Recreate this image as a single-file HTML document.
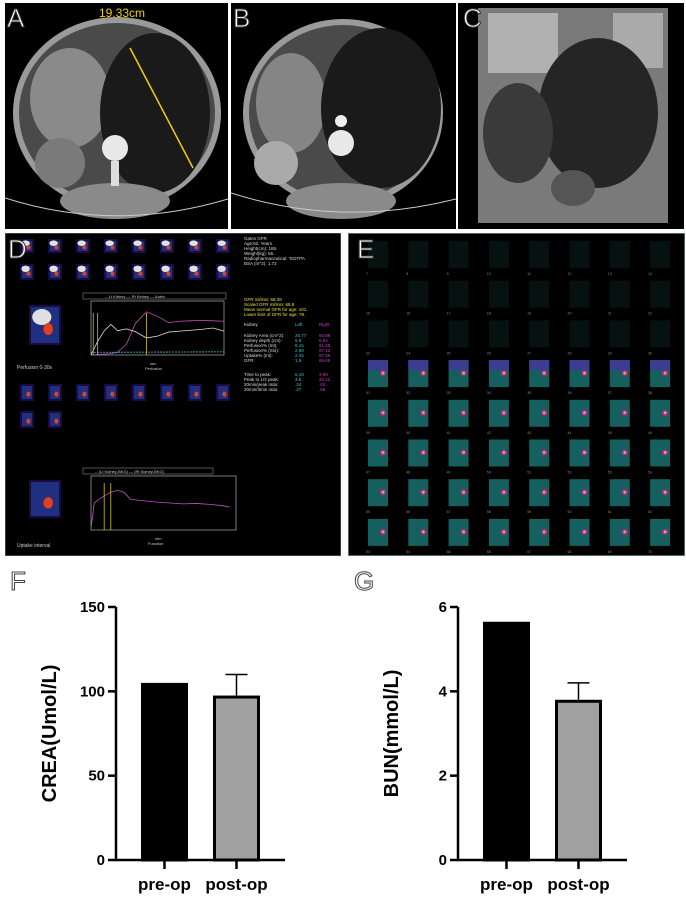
<!DOCTYPE html>
<html><head><meta charset="utf-8"><style>
body{margin:0;width:686px;height:897px;background:#fff;position:relative;overflow:hidden;font-family:"Liberation Sans",Arial,sans-serif}
.p{position:absolute}
.lbl{position:absolute;font-size:26px;color:#fff;font-family:"Liberation Sans",sans-serif;-webkit-text-stroke:1px #333;font-weight:400}
</style></head><body>

<svg class="p" style="left:5px;top:3px" width="223" height="226" viewBox="0 0 223 226">
<rect width="223" height="226" fill="#000"/>
<ellipse cx="112" cy="110" rx="104" ry="96" fill="#9a9a9a"/>
<ellipse cx="112" cy="110" rx="98" ry="90" fill="#4a4a4a"/>
<ellipse cx="65" cy="95" rx="40" ry="50" fill="#8a8a8a"/>
<ellipse cx="150" cy="110" rx="55" ry="80" fill="#1a1a1a"/>
<ellipse cx="110" cy="198" rx="55" ry="18" fill="#8a8a8a"/>
<ellipse cx="55" cy="160" rx="25" ry="25" fill="#7a7a7a"/>
<circle cx="110" cy="145" r="13" fill="#e8e8e8"/>
<rect x="106" y="158" width="8" height="25" fill="#ddd"/>
<line x1="125" y1="45" x2="188" y2="165" stroke="#f0d000" stroke-width="1.5"/>
<text x="94" y="14" fill="#f0d000" font-size="12" font-family="Liberation Sans">19.33cm</text>
<path d="M0 195 Q110 230 223 196" stroke="#ccc" fill="none"/>
</svg>
<div class="lbl" style="left:7px;top:3px">A</div>

<svg class="p" style="left:231px;top:3px" width="225" height="226" viewBox="0 0 225 226">
<rect width="225" height="226" fill="#000"/>
<ellipse cx="112" cy="110" rx="100" ry="94" fill="#9a9a9a"/>
<ellipse cx="112" cy="110" rx="94" ry="88" fill="#4a4a4a"/>
<ellipse cx="60" cy="100" rx="35" ry="50" fill="#858585"/>
<ellipse cx="150" cy="105" rx="60" ry="80" fill="#1a1a1a"/>
<ellipse cx="110" cy="198" rx="55" ry="18" fill="#8a8a8a"/>
<ellipse cx="45" cy="160" rx="22" ry="22" fill="#aaa"/>
<circle cx="110" cy="140" r="13" fill="#e8e8e8"/>
<circle cx="110" cy="118" r="6" fill="#eee"/>
<path d="M0 190 Q110 225 225 196" stroke="#ccc" fill="none"/>
</svg>
<div class="lbl" style="left:233px;top:3px">B</div>

<svg class="p" style="left:458px;top:3px" width="226" height="226" viewBox="0 0 226 226">
<rect width="226" height="226" fill="#000"/>
<rect x="20" y="5" width="190" height="215" fill="#7a7a7a"/>
<rect x="30" y="10" width="70" height="60" fill="#b0b0b0"/>
<rect x="155" y="10" width="50" height="55" fill="#aaa"/>
<ellipse cx="140" cy="110" rx="60" ry="75" fill="#252525"/>
<ellipse cx="60" cy="130" rx="35" ry="50" fill="#3a3a3a"/>
<ellipse cx="115" cy="185" rx="22" ry="18" fill="#555"/>
</svg>
<div class="lbl" style="left:463px;top:3px">C</div>

<svg class="p" id="dpanel" style="left:5px;top:233px" width="336" height="323" viewBox="0 0 336 323"></svg>
<div class="lbl" style="left:8px;top:234px">D</div>

<svg class="p" id="epanel" style="left:348px;top:233px" width="337" height="323" viewBox="0 0 337 323"></svg>
<div class="lbl" style="left:357px;top:234px">E</div>

<div class="lbl" style="left:10px;top:566px;color:#fff;-webkit-text-stroke:1px #444">F</div>
<div class="lbl" style="left:354px;top:566px;color:#fff;-webkit-text-stroke:1px #444">G</div>

<svg class="p" id="chartF" style="left:0;top:560px" width="343" height="337"></svg>
<svg class="p" id="chartG" style="left:343px;top:560px" width="343" height="337"></svg>

<script>
const NS='http://www.w3.org/2000/svg';
function mk(p,tag,a){const e=document.createElementNS(NS,tag);for(const k in a)e.setAttribute(k,a[k]);p.appendChild(e);return e;}

// Bar chart data
const categories=['pre-op','post-op'];
const creaValues=[105,97.5];
const creaErrors=[0,12.5];
const creaTicks=[0,50,100,150];
const bunValues=[5.65,3.8];
const bunErrors=[0,0.4];
const bunTicks=[0,2,4,6];

function bar(svg,vals,errs,ticks,max,title,ax){
  const y0=300,y1=47;
  const y=v=>y0-(v/max)*(y0-y1);
  const bx=[ax+25,ax+97], bw=47;
  mk(svg,'line',{x1:ax,y1:y1,x2:ax,y2:y0+1,stroke:'#000','stroke-width':2.5});
  mk(svg,'line',{x1:ax-1,y1:y0,x2:ax+169,y2:y0,stroke:'#000','stroke-width':2.5});
  ticks.forEach(t=>{
    const l=mk(svg,'line',{x1:ax-8,y1:y(t),x2:ax,y2:y(t),stroke:'#000','stroke-width':2.5});
    
    
    const tx=mk(svg,'text',{x:ax-11,y:y(t)+5,'text-anchor':'end','font-size':15,'font-weight':'bold','font-family':'Liberation Sans'});
    tx.textContent=t;
    
    
  });
  vals.forEach((v,i)=>{
    const x=bx[i];
    if(errs[i]>0){
      const el=mk(svg,'line',{x1:x+bw/2,y1:y(v),x2:x+bw/2,y2:y(v+errs[i]),stroke:'#000','stroke-width':1.5});
      
      
      mk(svg,'line',{x1:x+bw/2-11,y1:y(v+errs[i]),x2:x+bw/2+11,y2:y(v+errs[i]),stroke:'#000','stroke-width':1.5});
    }
    const r=mk(svg,'rect',{x:x+1.5,y:y(v)+1.5,width:bw-3,height:y0-y(v)-1.5,fill:i==0?'#000':'#a0a0a0',stroke:'#000','stroke-width':3});
    
    
    mk(svg,'line',{x1:x+bw/2,y1:y0,x2:x+bw/2,y2:y0+9,stroke:'#000','stroke-width':2.5});
    const lt=mk(svg,'text',{x:x+bw/2,y:y0+30,'text-anchor':'middle','font-size':17,'font-weight':'bold','font-family':'Liberation Sans'});
    lt.textContent=categories[i];
    
    
  });
  const tt=mk(svg,'text',{x:0,y:0,transform:`translate(${ax-60},${(y0+y1)/2}) rotate(-90)`,'text-anchor':'middle','font-size':20,'font-weight':'bold','font-family':'Liberation Sans'});
  tt.textContent=title;
  
  
}
bar(document.getElementById('chartF'),creaValues,creaErrors,creaTicks,150,'CREA(Umol/L)',116);
bar(document.getElementById('chartG'),bunValues,bunErrors,bunTicks,6,'BUN(mmol/L)',115);

// Panel D
const D=document.getElementById('dpanel');
mk(D,'rect',{width:336,height:323,fill:'#000',stroke:'#777'});
function thumb(x,y,w,h,hot){
  mk(D,'rect',{x:x,y:y,width:w,height:h,fill:'#1a0c40'});
  mk(D,'rect',{x:x+2,y:y+2,width:w-4,height:h-4,fill:'#203080'});
  if(hot){mk(D,'ellipse',{cx:x+w*0.4,cy:y+h*0.3,rx:w*0.3,ry:h*0.2,fill:'#e0e0e0'});}
  mk(D,'ellipse',{cx:x+w*0.6,cy:y+h*0.6,rx:w*0.15,ry:h*0.15,fill:'#e04020'});
}
for(let i=0;i<8;i++){thumb(15+i*28,6,14,14,true);thumb(15+i*28,31,14,16,true);}
for(let i=0;i<8;i++){thumb(15+i*28,151,14,17,false);}
for(let i=0;i<2;i++){thumb(15+i*28,178,14,17,false);}
thumb(24,72,32,40,true);thumb(24,247,32,38,false);
const tx=(x,y,s,c,fs)=>{const t=mk(D,'text',{x:x,y:y,fill:c,'font-size':fs||4.5,'font-family':'Liberation Sans'});t.textContent=s;return t;};
['Gates GFR','Age:62. Years','Height(cm): 165.','Weight(kg): 65.','Radiopharmaceutical: TcDTPA','BSA (m^2): 1.72'].forEach((s,i)=>tx(239,7+i*5,s,'#ddd'));
['GFR ml/min: 68.28','Scaled GFR ml/min: 68.8','Mean normal GFR for age: 101.','Lower limit of GFR for age: 78.'].forEach((s,i)=>tx(239,68+i*5,s,'#e8e040'));
tx(239,93,'Kidney','#ddd');tx(290,93,'Left','#40c0d0');tx(314,93,'Right','#c040c0');
['Kidney Area (cm^2):','Kidney depth (cm):','Perfusion% (Int):','Perfusion% (Slo):','Uptake% (Int):','GFR:'].forEach((s,i)=>{tx(239,104+i*5,s,'#ddd');tx(290,104+i*5,['20.77','5.9','8.15','2.88','2.34','1.6'][i],'#40c0d0');tx(314,104+i*5,['60.88','5.94','91.85','97.12','97.66','66.65'][i],'#c040c0');});
['Time to peak:','Peak to 1/2 peak:','20min/peak ratio:','20min/3min ratio:'].forEach((s,i)=>{tx(239,143+i*5,s,'#ddd');tx(290,143+i*5,['6.19','3.5','.24','.27'][i],'#40c0d0');tx(314,143+i*5,['3.69','26.22','.62','.66'][i],'#c040c0');});
tx(12,136,'Perfusion 0-30s','#ccc',5);tx(12,314,'Uptake interval','#ccc',5);
const perfT=[0,3,6,9,12,16,20,25,30,35,40,45,50,55,60];
const perfRight=[0,5,10,15,30,120,350,480,430,360,375,380,385,380,375];
const perfAorta=[0,150,270,340,270,290,260,190,210,255,265,275,285,300,265];
const uptT=[0,0.5,1,2,3,4,5,6,8,10,12,14,16,18,20,21];
const uptRight=[20,300,330,380,420,440,420,340,325,310,300,290,295,285,270,255];
function curve(x0,y0,w,h,tmax,vmax,ts,vs,col,dash){
  const pts=ts.map((t,i)=>`${x0+t/tmax*w},${y0-vs[i]/vmax*h}`).join(' ');
  mk(D,'polyline',{points:pts,fill:'none',stroke:col,'stroke-width':0.8,'stroke-dasharray':dash||''});
}
mk(D,'rect',{x:86,y:68,width:133,height:54,fill:'none',stroke:'#ccc','stroke-width':0.6});
mk(D,'rect',{x:78,y:60,width:143,height:6,fill:'none',stroke:'#ccc','stroke-width':0.4});
tx(100,65,'-- Lt Kidney   — Rt Kidney   — Aortic','#ccc',4);
curve(86,122,133,54,60,600,perfT,perfRight,'#c050c0');
curve(86,122,133,54,60,600,perfT,perfAorta,'#ddd');
curve(86,122,133,54,60,600,[0,60],[30,35],'#40c0d0','2 1');
[1,3,25].forEach(t=>mk(D,'line',{x1:86+t/60*133,y1:122,x2:86+t/60*133,y2:80,stroke:'#d0c030','stroke-width':0.8}));
tx(145,132,'sec','#ccc',4);tx(140,137,'Perfusion','#ccc',4);
mk(D,'rect',{x:86,y:243,width:145,height:54,fill:'none',stroke:'#ccc','stroke-width':0.6});
mk(D,'rect',{x:78,y:235,width:130,height:6,fill:'none',stroke:'#ccc','stroke-width':0.4});
tx(90,240,'-- (Lt Kidney-BKG)   — (Rt Kidney-BKG)','#ccc',4);
curve(86,297,145,54,22,600,uptT,uptRight,'#c050c0');
[2,3].forEach(t=>mk(D,'line',{x1:86+t/22*145,y1:297,x2:86+t/22*145,y2:250,stroke:'#d0c030','stroke-width':0.8}));
tx(150,307,'min','#ccc',4);tx(143,312,'Function','#ccc',4);

// Panel E
const E=document.getElementById('epanel');
mk(E,'rect',{width:337,height:323,fill:'#000',stroke:'#6a8a80','stroke-width':1.5});
for(let r=0;r<8;r++)for(let c=0;c<8;c++){
  const x=20+c*40.3,y=8+r*39.7;
  const bright=r>=3;
  const cell=mk(E,'rect',{x:x,y:y,width:20,height:27,fill:bright?'#15605e':'#051210'});
  
  
  if(r==3)mk(E,'rect',{x:x,y:y,width:20,height:10,fill:'#3c3c90'});
  if(bright){mk(E,'circle',{cx:x+15,cy:y+13,r:3.2,fill:'#8a30a0'});mk(E,'circle',{cx:x+15,cy:y+13,r:1.5,fill:'#ffa020'});}
  const t=mk(E,'text',{x:x-2,y:y+34,fill:'#888','font-size':3.5,'font-family':'Liberation Sans'});t.textContent=7+r*8+c;
}
</script>
</body></html>
